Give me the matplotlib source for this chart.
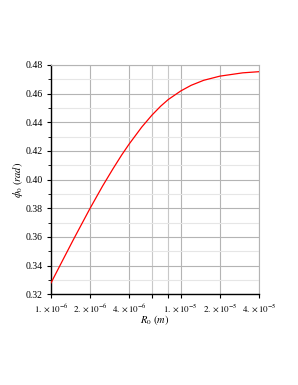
import matplotlib
matplotlib.use("Agg")
import matplotlib.pyplot as plt
from matplotlib.ticker import FixedLocator, NullFormatter, MultipleLocator

# 曲线数据
r0 = [1e-6, 1.25e-6, 1.5e-6, 2e-6, 2.5e-6, 3e-6, 3.5e-6, 4e-6, 5e-6,
      6e-6, 7e-6, 8e-6, 1e-5, 1.2e-5, 1.5e-5, 2e-5, 3e-5, 4e-5]
phi0 = [0.328, 0.345, 0.3588, 0.380, 0.3956, 0.4075, 0.4171, 0.4248, 0.4366,
        0.445, 0.4512, 0.4558, 0.4618, 0.4657, 0.4692, 0.4721, 0.4744, 0.4752]

x_major = [1e-6, 2e-6, 4e-6, 1e-5, 2e-5, 4e-5]
x_minor = [6e-6, 8e-6]
x_labels = [r"$1.\times10^{-6}$", r"$2.\times10^{-6}$", r"$4.\times10^{-6}$",
            r"$1.\times10^{-5}$", r"$2.\times10^{-5}$", r"$4.\times10^{-5}$"]
y_ticks = [0.32, 0.34, 0.36, 0.38, 0.40, 0.42, 0.44, 0.46, 0.48]
y_labels = ['0.32', '0.34', '0.36', '0.38', '0.40', '0.42', '0.44', '0.46', '0.48']

plt.rcParams['font.family'] = ['Liberation Serif', 'DejaVu Serif']
plt.rcParams['mathtext.fontset'] = 'stix'

fig = plt.figure(figsize=(2.98, 3.85), dpi=100)
ax = fig.add_axes([51 / 298, 1 - 294.4 / 385, 208 / 298, 229.6 / 385])

ax.plot(r0, phi0, color='#ff0000', linewidth=0.9, zorder=3)
ax.set_xscale('log')
ax.set_xlim(1e-6, 4e-5)
ax.set_ylim(0.32, 0.48)

ax.xaxis.set_major_locator(FixedLocator(x_major))
ax.set_xticklabels(x_labels, fontsize=6.5)
ax.xaxis.set_minor_locator(FixedLocator(x_minor))
ax.xaxis.set_minor_formatter(NullFormatter())

ax.yaxis.set_minor_locator(MultipleLocator(0.01))
ax.set_yticks(y_ticks)
ax.set_yticklabels(y_labels, fontsize=7)

ax.grid(True, which='major', axis='both', color='#b4b4b4', linewidth=0.8)
ax.grid(True, which='minor', axis='y', color='#e6e6e6', linewidth=0.8)
ax.grid(True, which='minor', axis='x', color='#c8c8c8', linewidth=0.8)

ax.tick_params(which='major', length=3, width=0.8, pad=3)
ax.tick_params(which='minor', length=2, width=0.6)
ax.tick_params(axis='x', which='minor', length=3, width=0.8)

for side in ['top', 'right']:
    ax.spines[side].set_color('#b4b4b4')
    ax.spines[side].set_linewidth(0.8)
ax.spines['left'].set_linewidth(1.0)
ax.spines['bottom'].set_linewidth(1.0)

ax.set_xlabel(r"$R_0\ (m)$", fontsize=7.5, labelpad=-1)
ax.set_ylabel(r"$\phi_0\ (rad)$", fontsize=7.5, labelpad=0)

fig.savefig('out.png', dpi=100)
